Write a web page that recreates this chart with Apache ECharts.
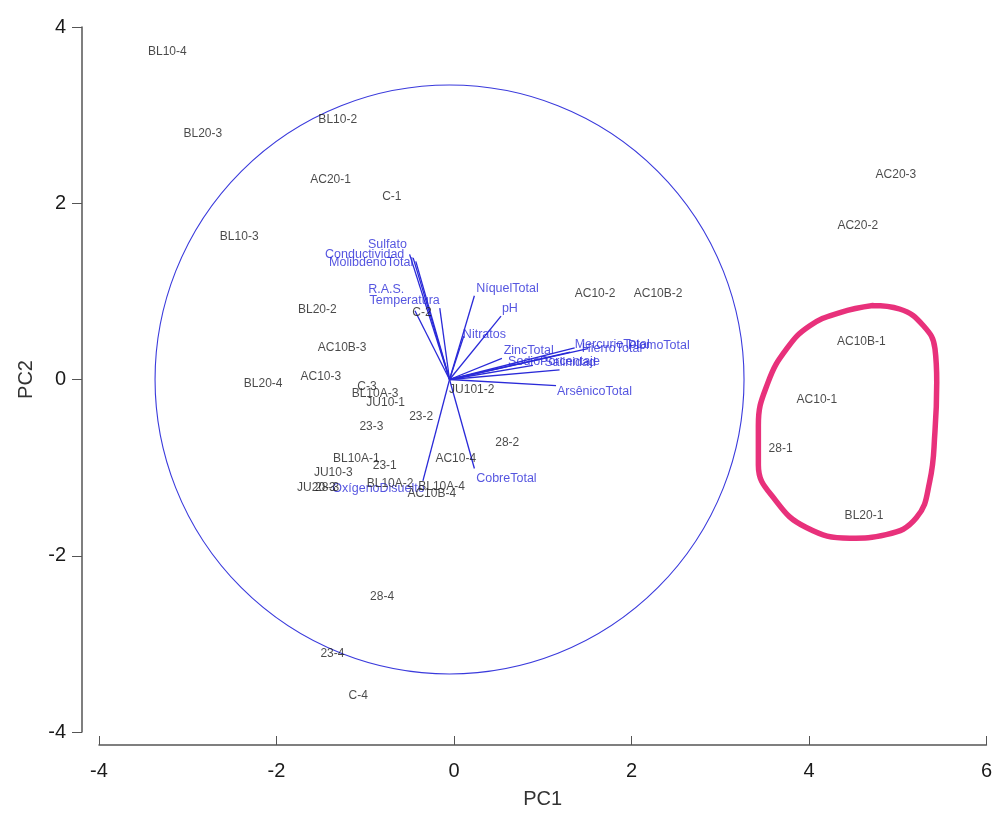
<!DOCTYPE html>
<html>
<head>
<meta charset="utf-8">
<script src="https://cdn.jsdelivr.net/npm/echarts@6/dist/echarts.min.js"></script>
<style>
  html, body { margin: 0; padding: 0; background: #fff; }
  #chart { width: 995px; height: 814px; }
</style>
</head>
<body>
<div id="chart"></div>
<script>
// sample scores (label centred on the point)
const sampleNames = [
  "BL10-4", "BL20-3", "BL10-2", "AC20-1", "C-1", "BL10-3", "C-2", "BL20-2",
  "AC10B-3", "AC10-3", "BL20-4", "C-3", "BL10A-3", "JU10-1", "JU101-2", "23-2",
  "23-3", "28-2", "AC10-4", "BL10A-1", "23-1", "JU10-3", "BL10A-2", "JU20-3",
  "28-3", "BL10A-4", "AC10B-4", "28-4", "23-4", "C-4", "AC10-2", "AC10B-2",
  "AC20-3", "AC20-2", "AC10B-1", "AC10-1", "28-1", "BL20-1"
];
const samplePC1 = [
  -3.23, -2.83, -1.31, -1.39, -0.70, -2.42, -0.36, -1.54,
  -1.26, -1.50, -2.15, -0.98, -0.89, -0.77, 0.20, -0.37,
  -0.93, 0.60, 0.02, -1.10, -0.78, -1.36, -0.72, -1.55,
  -1.43, -0.14, -0.25, -0.81, -1.37, -1.08, 1.59, 2.30,
  4.98, 4.55, 4.59, 4.09, 3.68, 4.62
];
const samplePC2 = [
  3.72, 2.79, 2.95, 2.27, 2.08, 1.62, 0.76, 0.79,
  0.36, 0.03, -0.05, -0.08, -0.16, -0.26, -0.11, -0.42,
  -0.54, -0.72, -0.90, -0.90, -0.98, -1.06, -1.18, -1.23,
  -1.23, -1.22, -1.30, -2.47, -3.11, -3.59, 0.97, 0.97,
  2.32, 1.74, 0.43, -0.23, -0.78, -1.54
];

// variable loadings (vector tips) and where their names sit
const varNames = [
  "Sulfato", "Conductividad", "MolibdenoTotal", "R.A.S.", "Temperatura",
  "NíquelTotal", "pH", "Nitratos", "ZincTotal", "SodioPorcentaje", "Salinidad",
  "MercurioTotal", "HierroTotal", "PlomoTotal", "ArsênicoTotal", "CobreTotal",
  "OxígenoDisuelto"
];
const varPC1 = [
  -0.50, -0.46, -0.43, -0.44, -0.16,
  0.23, 0.53, 0.11, 0.54, 0.89, 1.19,
  1.36, 1.31, 1.51, 1.15, 0.23,
  -0.35
];
const varPC2 = [
  1.42, 1.38, 1.34, 0.78, 0.81,
  0.95, 0.72, 0.49, 0.24, 0.16, 0.11,
  0.36, 0.31, 0.35, -0.07, -1.01,
  -1.15
];
const varLabelPC1 = [
  -0.53, -0.56, -0.46, -0.56, -0.16,
  0.25, 0.54, 0.10, 0.56, 0.61, 1.02,
  1.36, 1.44, 1.96, 1.16, 0.25,
  -0.33
];
const varLabelPC2 = [
  1.53, 1.42, 1.33, 1.02, 0.90,
  1.03, 0.80, 0.51, 0.33, 0.20, 0.19,
  0.40, 0.35, 0.38, -0.14, -1.12,
  -1.24
];

const origin = [-0.05, 0];
const circleRadius = 3.33;

// hand-drawn highlight loop
const loopPC1 = [4.72, 5.02, 5.29, 5.42, 5.44, 5.42, 5.36, 5.21, 4.87, 4.46, 3.97, 3.63, 3.43, 3.43, 3.54, 3.75, 4.01, 4.35, 4.72];
const loopPC2 = [0.84, 0.80, 0.61, 0.35, -0.03, -0.59, -1.16, -1.57, -1.76, -1.80, -1.68, -1.38, -0.97, -0.52, -0.03, 0.35, 0.61, 0.76, 0.84];

const xTicks = [-4, -2, 0, 2, 4, 6];
const yTicks = [-4, -2, 0, 2, 4];

const FONT = "Liberation Sans, Arial, sans-serif";
const BLUE = "#2a2ad8";

let myChart = echarts.init(document.getElementById("chart"));

let sampleData = sampleNames.map((n, i) => [samplePC1[i], samplePC2[i], n]);
let vectorData = varNames.map((n, i) => ({ coords: [origin, [varPC1[i], varPC2[i]]] }));
let varLabelData = varNames.map((n, i) => ({
  value: [varLabelPC1[i], varLabelPC2[i], n],
  label: { align: varPC1[i] < origin[0] ? "right" : "left" },
}));
let loopData = loopPC1.map((x, i) => [x, loopPC2[i]]);

myChart.setOption({
  animation: false,
  grid: {
    left: 99,
    right: 8,
    top: 27,
    bottom: 79,
  },
  xAxis: {
    type: "value",
    min: xTicks[0],
    max: xTicks[xTicks.length - 1],
    interval: 2,
    offset: 13,
    name: "PC1",
    nameLocation: "middle",
    nameGap: 44,
    nameTextStyle: { fontSize: 20, color: "#333", fontFamily: FONT },
    axisLine: { show: true, onZero: false, lineStyle: { color: "#555", width: 1.5 } },
    axisTick: { show: true, inside: true, length: 9, lineStyle: { color: "#555" } },
    axisLabel: { fontSize: 20, color: "#1a1a1a", margin: 16, fontFamily: FONT },
    splitLine: { show: false },
  },
  yAxis: {
    type: "value",
    min: yTicks[0],
    max: yTicks[yTicks.length - 1],
    interval: 2,
    offset: 17,
    name: "PC2",
    nameLocation: "middle",
    nameRotate: 90,
    nameGap: 46,
    nameTextStyle: { fontSize: 20, color: "#333", fontFamily: FONT },
    axisLine: { show: true, onZero: false, lineStyle: { color: "#555", width: 1.5 } },
    axisTick: { show: true, length: 10, lineStyle: { color: "#555" } },
    axisLabel: { fontSize: 20, color: "#1a1a1a", margin: 16, fontFamily: FONT },
    splitLine: { show: false },
  },
  series: [
    {
      // correlation circle
      type: "custom",
      silent: true,
      data: [[origin[0], origin[1], circleRadius]],
      renderItem: function (params, api) {
        let c = api.coord([api.value(0), api.value(1)]);
        let s = api.size([api.value(2), api.value(2)]);
        return {
          type: "circle",
          shape: { cx: c[0], cy: c[1], r: (s[0] + s[1]) / 2 },
          style: { fill: "none", stroke: "#3a3adc", lineWidth: 1.1 },
        };
      },
      z: 1,
    },
    {
      type: "lines",
      coordinateSystem: "cartesian2d",
      silent: true,
      data: vectorData,
      lineStyle: { color: BLUE, width: 1.3, opacity: 1 },
      z: 2,
    },
    {
      type: "scatter",
      silent: true,
      symbolSize: 0,
      data: varLabelData,
      label: {
        show: true,
        position: [0, 0],
        verticalAlign: "middle",
        formatter: (p) => p.value[2],
        color: BLUE,
        fontSize: 12.5,
        fontFamily: FONT,
      },
      z: 3,
    },
    {
      type: "scatter",
      silent: true,
      symbolSize: 0,
      data: sampleData,
      label: {
        show: true,
        position: [0, 0],
        align: "center",
        verticalAlign: "middle",
        formatter: (p) => p.data[2],
        color: "#1c1c1c",
        fontSize: 12,
        fontFamily: FONT,
      },
      labelLayout: { hideOverlap: false },
      z: 4,
    },
    {
      type: "line",
      silent: true,
      data: loopData,
      smooth: 0.45,
      symbol: "none",
      lineStyle: { color: "#e8317b", width: 5.5, cap: "round", join: "round" },
      z: 5,
    },
  ],
});
</script>
</body>
</html>
